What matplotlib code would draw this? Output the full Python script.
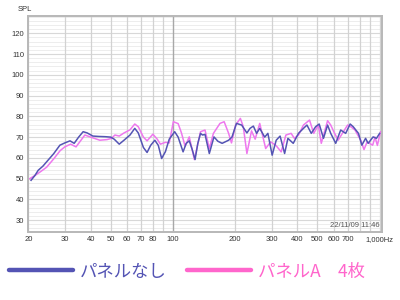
import matplotlib
matplotlib.use('Agg')
import matplotlib.pyplot as plt
from matplotlib.lines import Line2D
from matplotlib.ticker import FixedLocator, NullFormatter

# パネルなし (blue)
freq_a = [20.6, 21.5, 22.3, 23.5, 24.9, 26.5, 28.4, 30, 31.8, 33.3, 35, 36.8, 38.5, 41, 44, 47,
          50, 52, 55, 58, 62, 65.4, 68, 72, 75, 78, 81.8, 85, 88.2, 92, 96, 102, 106, 112,
          116, 120, 124, 128, 132, 136, 139, 143, 150, 158, 165, 173, 186, 193, 203, 215,
          228, 236, 245, 254, 263, 278, 288, 302, 316, 330, 347, 360, 382, 405, 428, 445,
          467, 490, 510, 535, 560, 580, 613, 648, 685, 720, 745, 790, 820, 855, 880, 930,
          965, 1000]
spl_a = [49.2, 51.5, 54, 56, 58.9, 62, 66.1, 67.2, 68.2, 67, 70, 72.6, 72, 70.5, 70.3, 70.2,
         70, 69, 66.6, 68.5, 71, 74.2, 72, 65, 62.6, 66, 68.5, 66, 59.7, 63, 69, 72.6, 70, 62.9,
         67, 68.2, 64, 59.2, 67, 71.8, 71, 71.3, 62.1, 70.1, 68, 67, 68.5, 70, 76.6, 75.8,
         72, 74.2, 75.3, 71.8, 74.2, 70, 71.8, 61.3, 68.5, 70.5, 62.1, 69.4, 67, 71.8, 74.2, 75.8,
         71.8, 75, 76.3, 69.4, 75.8, 71.8, 67, 73.4, 71.8, 76.3, 75, 71.8, 66.1, 69.4, 67, 70.1,
         69.4, 71.8]

# パネルA 4枚 (pink)
freq_b = [20.3, 21.5, 23, 24.5, 26.5, 28.5, 30, 32, 34, 37.5, 40, 44.3, 48, 50.5, 52.4, 55,
          58, 62, 65.4, 68, 72, 75, 80, 84, 87, 92, 96, 100.5, 106, 110, 114.5, 120, 127, 136,
          143, 150, 157, 169, 177, 186, 192, 201, 212, 219, 228, 240, 250, 263, 281, 297, 315,
          334, 352, 373, 387, 405, 428, 458, 480, 505, 522, 560, 580, 600, 630, 660, 700, 725,
          760, 810, 840, 870, 925, 950, 975, 1010]
spl_b = [50, 51.5, 53.5, 55.5, 59.5, 63.5, 65.3, 66.6, 65.3, 71, 70, 68.5, 68.8, 69.4, 71, 70.5,
         72, 73.5, 76.3, 75, 70, 68.2, 71.4, 69, 66.6, 67.5, 67.2, 77.4, 76.5, 72, 65.6, 70.1,
         59.2, 72.6, 73.4, 64.5, 71.8, 76.6, 77.4, 71.8, 67.2, 75.8, 79, 75, 62.1, 73, 69, 76.6,
         64.5, 67.7, 66, 62.9, 71, 71.8, 69.4, 71, 75.8, 78.2, 71.8, 75.8, 67, 77.9, 75.8, 72.6,
         68.5, 71.8, 75.8, 75, 73.4, 68.5, 64, 67.7, 66.1, 70, 66, 72.6]

xticks = [20, 30, 40, 50, 60, 70, 80, 100, 200, 300, 400, 500, 600, 700, 1000]
xlabels = ['20', '30', '40', '50', '60', '70', '80', '100', '200', '300', '400', '500',
           '600', '700', '1,000Hz']
xgrid = [20, 30, 40, 50, 60, 70, 80, 90, 200, 300, 400, 500, 600, 700, 800, 900, 1000]
yticks = list(range(30, 130, 10))

blue = '#5454b4'
pink = '#ee78ee'
pink_leg = '#ff66cc'

plt.rcParams['font.family'] = ['Noto Sans CJK JP', 'DejaVu Sans']

fig = plt.figure(figsize=(4, 3), dpi=100)
ax = fig.add_axes([0.071, 0.228, 0.883, 0.72])
ax.set_xscale('log')
ax.set_xlim(20, 1022)
ax.set_ylim(24.5, 128.5)

# grid
for y in range(26, 129, 2):
    ax.axhline(y, color='#ededed', lw=0.7, zorder=0)
for y in yticks:
    ax.axhline(y, color='#d8d8d8', lw=0.8, zorder=0)
for x in xgrid:
    ax.axvline(x, color='#d2d2d2', lw=0.9, zorder=0)
ax.axvline(100, color='#a8a8a8', lw=1.0, zorder=0)

ax.plot(freq_b, spl_b, color=pink, lw=1.1, zorder=2)
ax.plot(freq_a, spl_a, color=blue, lw=1.1, zorder=3)

ax.xaxis.set_major_locator(FixedLocator(xticks))
ax.xaxis.set_minor_formatter(NullFormatter())
ax.xaxis.set_minor_locator(FixedLocator([]))
ax.set_xticklabels(xlabels)
ax.set_yticks(yticks)
ax.tick_params(length=0, labelsize=5.5, labelcolor='#333333', pad=3,
               labelfontfamily='Liberation Sans')

for s in ax.spines.values():
    s.set_color('#b8b8b8')
    s.set_linewidth(1.4)

fig.text(0.045, 0.963, 'SPL', fontsize=5.5, color='#333333', family='Liberation Sans')
ax.text(0.995, 0.012, '22/11/09 11:46', transform=ax.transAxes, ha='right', va='bottom',
        fontsize=5.5, color='#555555', family='Liberation Sans')

handles = [Line2D([], [], color=blue, lw=3.2, solid_capstyle='round'),
           Line2D([], [], color=pink_leg, lw=3.2, solid_capstyle='round')]
leg = fig.legend(handles, ['パネルなし', 'パネルA\u30004枚'], loc='center left',
                 bbox_to_anchor=(0.004, 0.095), ncol=2, frameon=False, fontsize=12.5,
                 handlelength=3.7, handletextpad=0.4, columnspacing=1.15, borderaxespad=0)
for t, c in zip(leg.get_texts(), [blue, pink_leg]):
    t.set_color(c)

fig.savefig('out.png', dpi=100)
